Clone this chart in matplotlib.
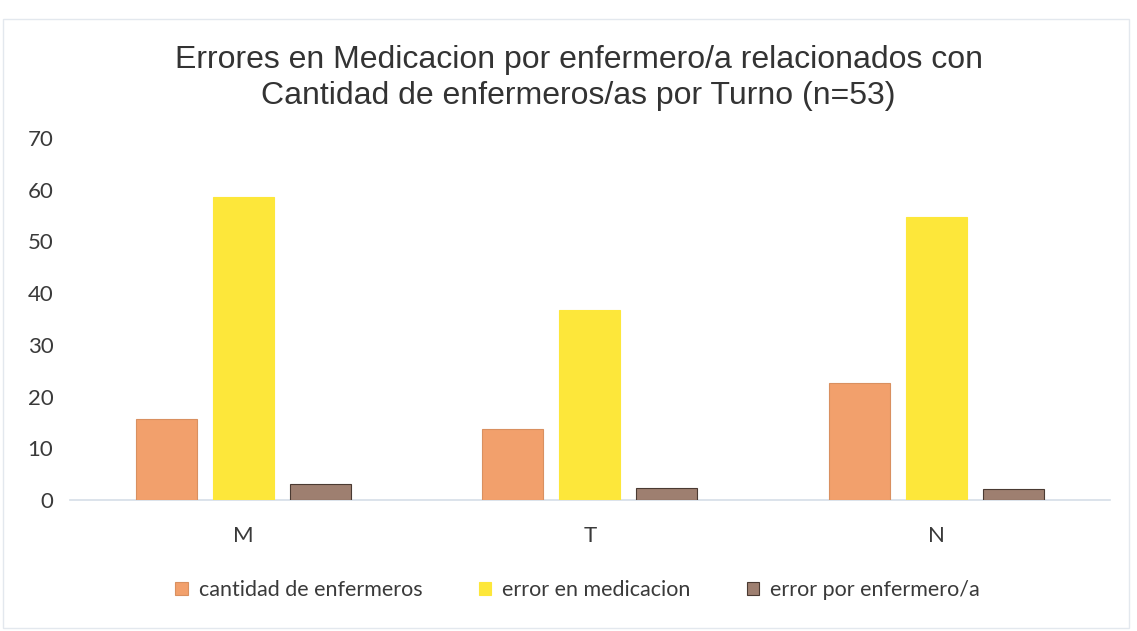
import matplotlib.pyplot as plt
import numpy as np

categories = ["M", "T", "N"]
cantidad = [15.7, 13.7, 22.7]
error_med = [58.6, 36.7, 54.7]
error_por = [3.1, 2.4, 2.1]
series_names = ["cantidad de enfermeros", "error en medicacion", "error por enfermero/a"]
yticks = [0, 10, 20, 30, 40, 50, 60, 70]

plt.rcParams['font.family'] = ['Lato', 'DejaVu Sans']

fig = plt.figure(figsize=(11.37, 6.31), dpi=100)
ax = fig.add_axes([0.0616, 0.2076, 0.9144, 0.5737])

x = np.arange(len(categories))
w = 0.176
step = 0.222
colors = ["#F2A06C", "#FDE73A", "#9E7F70"]
edges = ["#D99060", "#FDE73A", "#4a3a32"]
for i, (vals, name) in enumerate(zip([cantidad, error_med, error_por], series_names)):
    ax.bar(x + (i - 1) * step, vals, width=w, color=colors[i], edgecolor=edges[i],
           linewidth=0.8, label=name, zorder=3)

ax.set_xlim(-0.5, 2.5)
ax.set_ylim(0, 70)
ax.set_yticks(yticks)
ax.set_xticks(x)
ax.set_xticklabels(categories)
for s in ["top", "right", "left"]:
    ax.spines[s].set_visible(False)
ax.spines["bottom"].set_color("#D6DEE8")
ax.spines["bottom"].set_linewidth(1.2)
ax.tick_params(axis="both", length=0, labelsize=16, colors="#3a3a3a")
ax.tick_params(axis="x", pad=19)
ax.tick_params(axis="y", pad=12)

fig.text(0.509, 0.876, "Errores en Medicacion por enfermero/a relacionados con\nCantidad de enfermeros/as por Turno (n=53)",
         ha="center", va="center", fontsize=23, color="#333333",
         family=["Liberation Sans", "DejaVu Sans"], linespacing=1.25)

leg = fig.legend(loc="center", bbox_to_anchor=(0.508, 0.065), ncol=3, frameon=False,
                 fontsize=15.5, handlelength=0.6, handleheight=0.6, columnspacing=2.6,
                 handletextpad=0.5)
for t in leg.get_texts():
    t.set_color("#3a3a3a")

fig.patches.append(plt.Rectangle((0.003, 0.005), 0.99, 0.965, transform=fig.transFigure,
                                 fill=False, edgecolor="#E3E8EE", linewidth=1))

fig.savefig("out.png", dpi=100)
